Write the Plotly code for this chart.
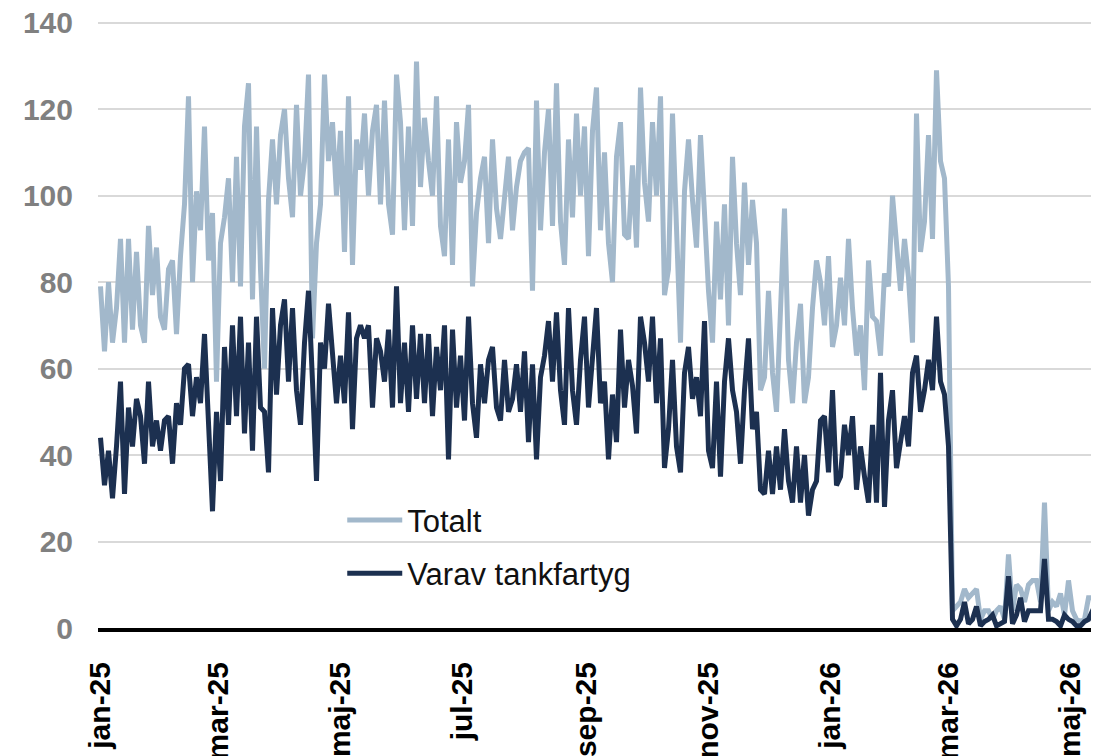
import pandas as pd
import plotly.graph_objects as go

start_date = "2025-01-01"
step = "2D"

totalt = [
    79, 64, 80, 66, 74, 90, 66, 90, 69, 87, 70, 66, 93, 77, 88, 72, 69, 83, 85, 68,
    86, 98, 123, 80, 101, 92, 116, 85, 96, 57, 89, 95, 104, 80, 109, 79, 116, 126, 76, 116,
    83,
    60, 99, 113, 98, 114, 120, 104, 95, 121, 100, 108, 128, 67, 89, 98, 128, 108, 117, 100, 115,
    87, 123, 84, 113, 106, 119, 100, 115, 121, 98, 122, 98, 91, 128, 117, 92, 116, 93, 131, 102,
    118, 108, 100, 123, 93, 86, 113, 84, 117, 103, 108, 121, 79, 96, 104, 109, 89, 113, 97, 90,
    100, 109, 92, 102, 108, 110, 111, 78, 122, 92, 110, 120, 93, 126, 94, 84, 113, 95, 119, 100,
    116, 86,
    115, 125, 92, 110, 89, 80, 109, 117, 91, 90, 107, 88, 125, 103, 94, 117, 100, 123, 77, 83,
    119, 91, 66, 101, 113, 99, 88, 114, 94, 78, 66, 94, 76, 98, 70, 109, 89, 77, 103, 84,
    99,
    89, 55, 58, 78, 59, 50, 71, 97, 62, 52, 66, 75, 52, 58, 74, 85, 80, 70, 86, 65,
    70, 81, 70, 90, 74, 63, 70, 55, 85, 72, 71, 63, 82, 79, 100, 90, 78, 90, 81, 66,
    119, 87,
    94, 114, 90, 129, 108, 104, 79, 4, 5, 6, 9, 7, 8, 9, 2, 4, 4, 2, 4, 5,
    2, 17, 4, 10, 9, 6, 10, 11, 11, 6, 29, 4, 6, 5, 8, 3, 11, 4, 2, 1.5,
    2, 7, 7, 7,
]

tankfartyg = [
    44, 33, 41, 30, 42, 57, 31, 51, 42, 53, 49, 38, 57, 42, 48, 41, 48, 49, 38, 52,
    47, 60, 61, 49, 58, 52, 68, 46, 27, 50, 34, 65, 47, 70, 49, 72, 45, 66, 41, 72,
    51,
    50, 36, 74, 54, 70, 76, 57, 74, 55, 47, 66, 78, 57, 34, 66, 60, 75, 63, 52, 63,
    52, 73, 46, 67, 70, 67, 70, 51, 67, 64, 57, 69, 51, 79, 52, 66, 50, 70, 53, 68,
    52, 68, 49, 65, 55, 70, 39, 69, 51, 63, 48, 72, 52, 44, 61, 52, 62, 65, 51, 48,
    62, 50, 53, 61, 50, 64, 43, 61, 39, 58, 63, 71, 57, 73, 55, 47, 74, 55, 47, 62,
    72, 51,
    63, 74, 52, 57, 39, 54, 43, 69, 51, 62, 56, 45, 72, 66, 57, 72, 52, 67, 37, 46,
    62, 42, 36, 59, 65, 53, 58, 49, 71, 41, 37, 57, 35, 57, 67, 55, 50, 38, 55, 67,
    46,
    50, 32, 31, 41, 31, 42, 32, 46, 34, 29, 42, 29, 40, 26, 32, 34, 48, 49, 36, 55,
    33, 35, 47, 40, 49, 32, 42, 35, 29, 47, 29, 59, 28, 48, 55, 37, 44, 49, 42, 59,
    63, 50,
    55, 62, 55, 72, 57, 54, 42, 2, 0.5, 2, 6, 1, 2, 5, 0.5, 1.5, 2, 3, 0.5, 1,
    1.5, 12, 1, 3, 7, 1.5, 4, 4, 4, 4, 16, 2, 2, 1.5, 0.5, 3, 2, 1.5, 0.5, 0.5,
    1.5, 2, 4, 4,
]

tick_dates = ["2025-01-01", "2025-03-01", "2025-05-01", "2025-07-01", "2025-09-01",
              "2025-11-01", "2026-01-01", "2026-03-01", "2026-05-01"]
tick_labels = ["jan-25", "mar-25", "maj-25", "jul-25", "sep-25",
               "nov-25", "jan-26", "mar-26", "maj-26"]
y_ticks = [0, 20, 40, 60, 80, 100, 120, 140]

dates = pd.date_range(start_date, periods=len(totalt), freq=step)

LIGHT = "#A2B8CB"
DARK = "#1C3050"
FONT = "Liberation Sans, Arial, sans-serif"

fig = go.Figure()
fig.add_trace(go.Scatter(x=dates, y=totalt, mode="lines", name="Totalt",
                         line=dict(color=LIGHT, width=5), legendgroup="a"))
fig.add_trace(go.Scatter(x=dates, y=tankfartyg, mode="lines", name="Varav tankfartyg",
                         line=dict(color=DARK, width=5), legendgroup="b"))

x0 = pd.Timestamp(start_date) - pd.Timedelta(hours=30)
x1 = pd.Timestamp(start_date) + pd.Timedelta(hours=int(499.25 * 24))

# The page body adds an 8px margin, so the figure is 8px smaller and offset accordingly
fig.update_layout(
    width=1091, height=748,
    margin=dict(l=90, r=0, t=13, b=128),
    paper_bgcolor="white", plot_bgcolor="white",
    font=dict(family=FONT),
    showlegend=True,
    legend=dict(x=0.244, y=0.222, xanchor="left", yanchor="top",
                bgcolor="rgba(0,0,0,0)", font=dict(size=31, color="#111111", family=FONT),
                itemwidth=55, tracegroupgap=10, traceorder="grouped"),
    xaxis=dict(type="date", range=[x0, x1], tickmode="array",
               tickvals=tick_dates, ticktext=tick_labels, tickangle=-90,
               tickfont=dict(size=30, color="black", family=FONT, weight="bold"),
               showgrid=False, showline=True, linecolor="black", linewidth=4,
               ticks="", ticklabelstandoff=18, zeroline=False, automargin=False,
               ticklabeloverflow="allow"),
    yaxis=dict(range=[0, 140.4], tickmode="array", tickvals=y_ticks,
               tickfont=dict(size=30, color="#808080", family=FONT, weight="bold"),
               showgrid=True, gridcolor="#D9D9D9", gridwidth=1.5,
               showline=False, zeroline=False, ticks="", ticklabelstandoff=24,
               automargin=False, ticklabeloverflow="allow"),
)

fig.write_html("out.html")
